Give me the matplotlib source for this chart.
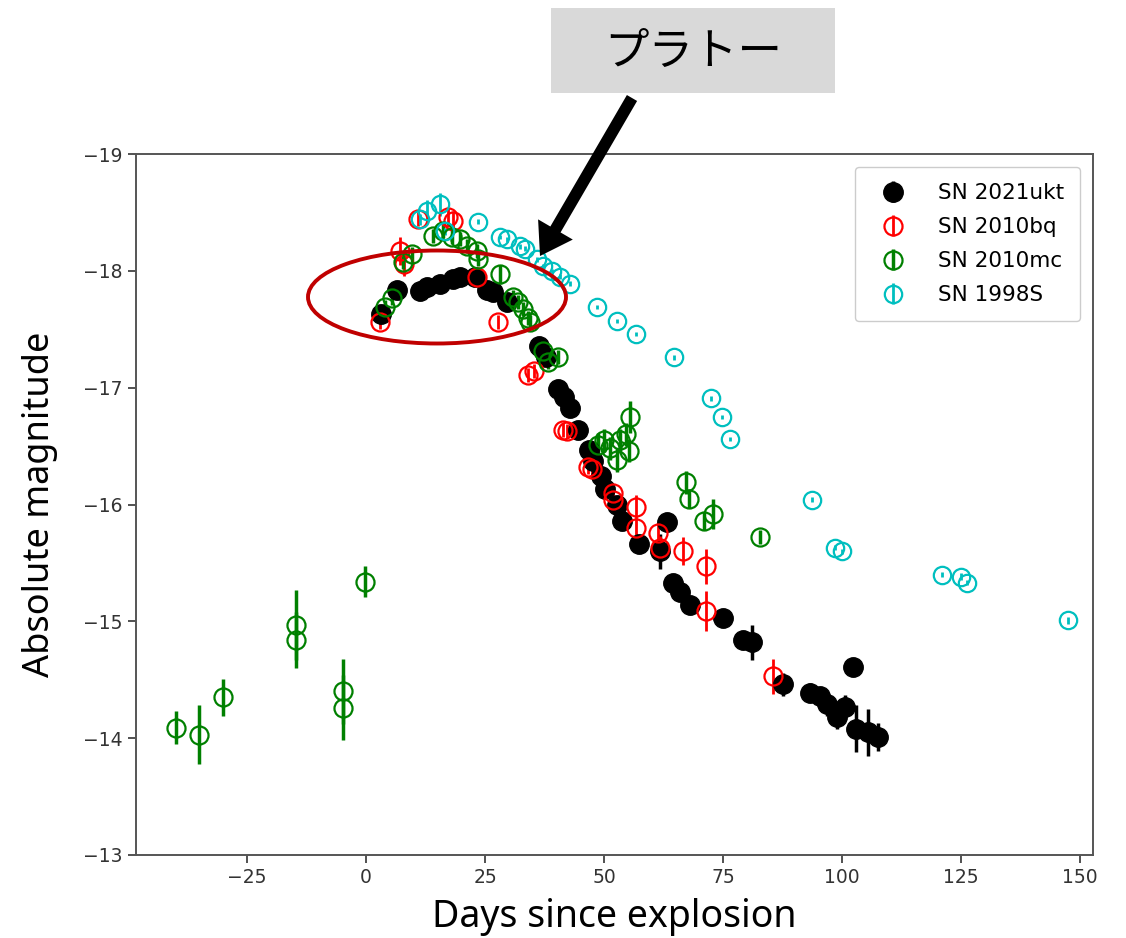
import numpy as np
import matplotlib
matplotlib.use("Agg")
import matplotlib.pyplot as plt
from matplotlib.patches import Ellipse, Rectangle, FancyArrowPatch

# SN 2021ukt (filled black)
ukt_days = [3.2, 6.5, 11.3, 12.8, 15.5, 18.3, 19.7, 22.9, 25.4, 26.7, 29.6, 36.3,
            37.8, 40.3, 41.5, 42.9, 44.5, 46.8, 47.6, 49.4, 50.2, 52.7, 53.8, 57.4,
            61.8, 63.2, 64.5, 66.0, 68.1, 75.0, 79.2, 81.1, 87.6, 93.3, 95.4, 96.8,
            99.0, 100.6, 102.3, 103.0, 105.5, 107.6]
ukt_mag = [-17.63, -17.84, -17.83, -17.86, -17.89, -17.93, -17.95, -17.95, -17.84, -17.82,
           -17.73, -17.36, -17.26, -16.99, -16.92, -16.83, -16.64, -16.47, -16.37, -16.24,
           -16.13, -16.00, -15.86, -15.66, -15.60, -15.85, -15.33, -15.25, -15.14, -15.03,
           -14.84, -14.82, -14.46, -14.39, -14.36, -14.29, -14.18, -14.27, -14.61, -14.08,
           -14.05, -14.01]
ukt_err = [0.05, 0.05, 0.04, 0.04, 0.04, 0.04, 0.04, 0.04, 0.04, 0.04, 0.04, 0.05,
           0.05, 0.05, 0.05, 0.05, 0.05, 0.05, 0.05, 0.05, 0.05, 0.05, 0.05, 0.05,
           0.15, 0.06, 0.05, 0.05, 0.05, 0.05, 0.06, 0.15, 0.10, 0.08, 0.06, 0.10,
           0.10, 0.10, 0.04, 0.20, 0.20, 0.12]

# SN 2010bq (open red)
bq_days = [2.9, 7.1, 8.0, 10.9, 17.2, 18.3, 23.3, 27.7, 34.0, 35.3, 41.4, 42.2,
           46.6, 47.5, 51.9, 51.9, 56.7, 56.7, 61.3, 61.8, 66.6, 71.4, 71.4, 85.5]
bq_mag = [-17.56, -18.17, -18.06, -18.44, -18.46, -18.43, -17.95, -17.56, -17.11, -17.14,
          -16.64, -16.63, -16.32, -16.30, -16.10, -16.04, -15.98, -15.80, -15.76, -15.63,
          -15.60, -15.47, -15.09, -14.53]
bq_err = [0.06, 0.12, 0.10, 0.06, 0.08, 0.08, 0.06, 0.06, 0.06, 0.06, 0.06, 0.06,
          0.06, 0.06, 0.07, 0.07, 0.10, 0.08, 0.08, 0.10, 0.12, 0.15, 0.17, 0.15]

# SN 2010mc (open green)
mc_days = [-39.9, -35.1, -30.0, -14.7, -14.7, -0.2, -4.8, -4.8, 4.0, 5.5, 7.8, 9.7,
           14.1, 16.2, 18.1, 19.7, 21.2, 23.3, 23.5, 28.2, 30.9, 31.9, 33.0, 34.0,
           34.5, 37.2, 38.2, 40.3, 48.7, 50.0, 51.3, 52.7, 53.4, 54.6, 55.5, 55.3,
           67.2, 67.9, 71.0, 72.9, 82.8]
mc_mag = [-14.09, -14.03, -14.35, -14.97, -14.84, -15.34, -14.40, -14.26, -17.69, -17.77,
          -18.08, -18.14, -18.30, -18.34, -18.29, -18.27, -18.21, -18.17, -18.10, -17.97,
          -17.78, -17.73, -17.67, -17.60, -17.56, -17.31, -17.22, -17.26, -16.51, -16.55,
          -16.48, -16.38, -16.55, -16.60, -16.75, -16.46, -16.19, -16.05, -15.86, -15.92,
          -15.72]
mc_err = [0.14, 0.25, 0.16, 0.30, 0.24, 0.13, 0.28, 0.28, 0.06, 0.06, 0.06, 0.06,
          0.06, 0.06, 0.06, 0.06, 0.06, 0.06, 0.06, 0.08, 0.06, 0.06, 0.06, 0.06,
          0.06, 0.06, 0.06, 0.06, 0.10, 0.10, 0.10, 0.10, 0.10, 0.10, 0.14, 0.10,
          0.10, 0.08, 0.08, 0.13, 0.06]

# SN 1998S (open cyan)
s98_days = [11.3, 12.8, 15.5, 16.6, 23.5, 28.2, 29.6, 32.4, 33.4, 35.9, 37.2, 39.1,
            40.8, 42.9, 48.5, 52.7, 56.7, 64.7, 72.5, 74.8, 76.5, 93.7, 98.5, 100.0,
            121.0, 125.0, 126.3, 147.5]
s98_mag = [-18.44, -18.51, -18.57, -18.34, -18.42, -18.29, -18.27, -18.21, -18.19, -18.10,
           -18.04, -18.00, -17.95, -17.89, -17.69, -17.57, -17.46, -17.26, -16.91, -16.75,
           -16.56, -16.04, -15.63, -15.60, -15.40, -15.38, -15.33, -15.01]
s98_err = [0.05, 0.10, 0.10, 0.03, 0.02, 0.02, 0.02, 0.02, 0.02, 0.02, 0.02, 0.02,
           0.02, 0.02, 0.02, 0.02, 0.02, 0.02, 0.02, 0.02, 0.02, 0.02, 0.02, 0.02,
           0.02, 0.03, 0.02, 0.03]

fig = plt.figure(figsize=(11.26, 9.38), dpi=100)
ax = fig.add_axes([0.1208, 0.0885, 0.8499, 0.7473])

ax.errorbar(ukt_days, ukt_mag, yerr=ukt_err, fmt='o', color='k', ms=14,
            elinewidth=2.5, capsize=0, label='SN 2021ukt')
ax.errorbar(bq_days, bq_mag, yerr=bq_err, fmt='o', color='r', mfc='none', ms=13,
            mew=1.6, elinewidth=2, capsize=0, label='SN 2010bq')
ax.errorbar(mc_days, mc_mag, yerr=mc_err, fmt='o', color='g', mfc='none', ms=13,
            mew=1.6, elinewidth=2.5, capsize=0, label='SN 2010mc')
ax.errorbar(s98_days, s98_mag, yerr=s98_err, fmt='o', color='c', mfc='none', ms=12.5,
            mew=1.6, elinewidth=2, capsize=0, label='SN 1998S')

ax.set_xlim(-48.3, 152.7)
ax.set_ylim(-13, -19)
ax.set_xticks([-25, 0, 25, 50, 75, 100, 125, 150])
ax.set_yticks([-19, -18, -17, -16, -15, -14, -13])
ax.tick_params(labelsize=13.5, length=6, width=1.2, colors='#333333')
for sp in ax.spines.values():
    sp.set_color('#555555')
    sp.set_linewidth(1.4)

ax.set_xlabel('Days since explosion', fontsize=27, family='Noto Sans', labelpad=8)
ax.set_ylabel('Absolute magnitude', fontsize=26, family='Noto Sans', labelpad=18)

ax.legend(loc='upper right', fontsize=15.5, labelspacing=0.65, borderpad=0.75,
          handletextpad=1.1, borderaxespad=0.6, framealpha=1, edgecolor='#cccccc')

# annotation box, arrow and ellipse
fig.patches.append(Rectangle((551 / 1126, 1 - 93 / 938), 284 / 1126, 85 / 938,
                             transform=fig.transFigure, facecolor='#d9d9d9',
                             edgecolor='none'))
fig.text(693 / 1126, 1 - 52 / 938, 'プラトー', fontsize=32,
         family=['Noto Sans CJK JP', 'DejaVu Sans'], ha='center', va='center')
fig.add_artist(FancyArrowPatch(
    (632 / 1126, 1 - 98 / 938), (540 / 1126, 1 - 256 / 938),
    transform=fig.transFigure,
    arrowstyle='simple,head_length=1.3,head_width=1.7,tail_width=0.5',
    mutation_scale=17, shrinkA=0, shrinkB=0, linewidth=0, color='k'))
fig.add_artist(Ellipse((437 / 1126, 1 - 297 / 938), 258 / 1126, 93 / 938,
                       transform=fig.transFigure, fill=False, edgecolor='#c00000',
                       linewidth=2.8))

fig.savefig('out.png', dpi=100)
